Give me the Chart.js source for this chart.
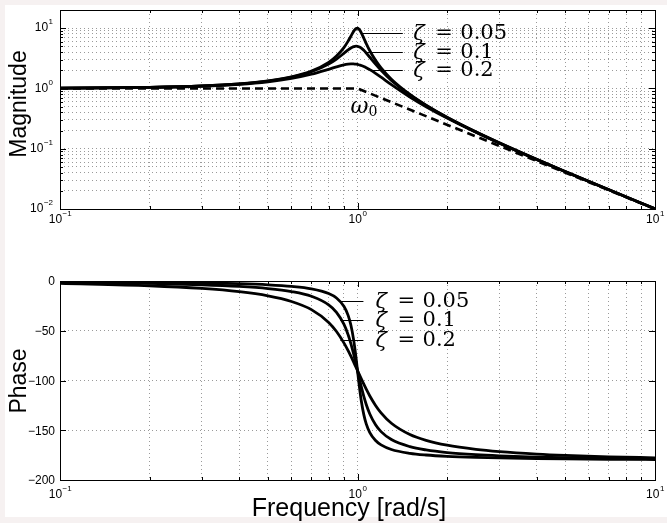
<!DOCTYPE html>
<html>
<head>
<meta charset="utf-8">
<script src="https://cdn.jsdelivr.net/npm/chart.js@4.4.0/dist/chart.umd.min.js"></script>
<style>
  html, body { margin: 0; padding: 0; background: #f6f1f1; }
  #page { position: relative; width: 667px; height: 523px; overflow: hidden; }
  #sheet { position: absolute; left: 5px; top: 5px; width: 662px; height: 512px; background: #fff; }
  #magBox { position: absolute; left: 0; top: 0; width: 667px; height: 250px; }
  #phaseBox { position: absolute; left: 0; top: 250px; width: 667px; height: 273px; }
</style>
</head>
<body>
<div id="page">
  <div id="sheet"></div>
  <div id="magBox"><canvas id="magChart" width="667" height="250"></canvas></div>
  <div id="phaseBox"><canvas id="phaseChart" width="667" height="273"></canvas></div>
</div>
<script>
// frequency samples [rad/s]
const freq = [0.1, 0.2, 0.3, 0.4, 0.5, 0.6, 0.7, 0.8, 0.85, 0.9, 0.93, 0.95, 0.97, 0.98, 0.99, 1,
  1.01, 1.02, 1.03, 1.05, 1.07, 1.1, 1.15, 1.2, 1.3, 1.5, 1.7, 2, 2.5, 3, 4, 5, 7, 10];

// magnitude for each damping ratio
const magZeta005 = [1.010, 1.041, 1.098, 1.189, 1.330, 1.556, 1.943, 2.712, 3.446, 4.757, 6.097, 7.346, 8.804, 9.461, 9.903, 10.0,
  9.711, 9.115, 8.357, 6.815, 5.552, 4.218, 2.921, 2.193, 1.424, 0.794, 0.527, 0.3326, 0.1903, 0.1249, 0.0666, 0.0417, 0.0208, 0.0101];
const magZeta01 = [1.010, 1.041, 1.097, 1.185, 1.322, 1.536, 1.891, 2.538, 3.073, 3.821, 4.350, 4.683, 4.931, 5.001, 5.025, 5.0,
  4.926, 4.809, 4.655, 4.279, 3.869, 3.288, 2.525, 1.995, 1.356, 0.778, 0.521, 0.3304, 0.1896, 0.1247, 0.0666, 0.0416, 0.0208, 0.0101];
const magZeta02 = [1.009, 1.038, 1.090, 1.170, 1.288, 1.463, 1.719, 2.076, 2.279, 2.457, 2.527, 2.549, 2.548, 2.538, 2.522, 2.5,
  2.472, 2.439, 2.401, 2.313, 2.213, 2.051, 1.780, 1.536, 1.157, 0.721, 0.498, 0.3221, 0.1871, 0.1236, 0.0663, 0.0415, 0.0208, 0.0101];

// phase [deg]
const phaseZeta005 = [-0.58, -1.19, -1.89, -2.73, -3.81, -5.36, -7.82, -12.53, -17.03, -25.35, -34.54, -44.26, -58.65, -67.99, -78.64, -90,
  -101.26, -111.61, -120.59, -134.31, -143.56, -152.35, -160.37, -164.74, -169.33, -173.16, -174.86, -176.19, -177.27, -177.85, -178.47, -178.81, -179.16, -179.42];
const phaseZeta01 = [-1.16, -2.39, -3.77, -5.44, -7.59, -10.62, -15.35, -23.96, -31.49, -43.45, -54.00, -62.83, -73.06, -78.58, -84.26, -90,
  -95.68, -101.20, -106.47, -116.02, -124.10, -133.67, -144.50, -151.39, -159.35, -166.50, -169.80, -172.41, -174.56, -175.71, -176.95, -177.61, -178.33, -178.84];
const phaseZeta02 = [-2.31, -4.76, -7.51, -10.78, -14.93, -20.56, -28.77, -41.63, -50.78, -62.18, -70.04, -75.61, -81.34, -84.23, -87.12, -90,
  -92.85, -95.65, -98.41, -103.71, -108.70, -115.52, -125.03, -132.51, -143.00, -154.36, -160.21, -165.07, -169.22, -171.47, -173.91, -175.24, -176.66, -177.69];

// straight-line asymptote
const asymFreq = [0.1, 1, 10];
const asymMag = [1, 1, 0.01];

const zetaLabels = ['0.05', '0.1', '0.2'];

// tick labels
const freqDecades = [0.1, 1, 10];
const freqExponents = ['\u22121', '0', '1'];
const magDecades = [0.01, 0.1, 1, 10];
const magExponents = ['\u22122', '\u22121', '0', '1'];
const phaseTicks = [0, -50, -100, -150, -200];

const SANS = '"Liberation Sans", Arial, Helvetica, sans-serif';
const SERIF = '"DejaVu Serif", "Liberation Serif", serif';

const pts = (xs, ys) => xs.map((x, i) => ({ x: x, y: ys[i] }));

function logGrid(min, max) {
  const vals = [];
  for (let d = min; d <= max; d *= 10) {
    for (let k = 1; k <= 9; k++) {
      const v = parseFloat((k * d).toPrecision(2));
      if (v <= max * 1.0001) vals.push(v);
    }
  }
  return vals;
}

const isDecade = v => Math.abs(Math.log10(v) - Math.round(Math.log10(v))) < 1e-6;

function curve(data) {
  return {
    data: data,
    borderColor: '#000',
    borderWidth: 2.8,
    pointRadius: 0,
    fill: false,
    cubicInterpolationMode: 'monotone'
  };
}

function asymptote(data) {
  return {
    data: data,
    borderColor: '#000',
    borderWidth: 2.6,
    borderDash: [8, 5],
    pointRadius: 0,
    fill: false,
    tension: 0
  };
}

const gridStyle = { color: '#9a9a9a', lineWidth: 1, drawTicks: false };
const borderStyle = { display: false, dash: [1, 3] };

function supLabel(ctx, x, y, exp, align) {
  ctx.font = '12px ' + SANS;
  const wb = ctx.measureText('10').width;
  ctx.font = '8px ' + SANS;
  const we = ctx.measureText(exp).width;
  const left = align === 'right' ? x - wb - we - 0.5 : x - (wb + we) / 2;
  ctx.textAlign = 'left';
  ctx.textBaseline = 'middle';
  ctx.font = '12px ' + SANS;
  ctx.fillText('10', left, y);
  ctx.font = '8px ' + SANS;
  ctx.fillText(exp, left + wb + 0.5, y - 6);
}

function zetaText(ctx, x, y, val) {
  ctx.textAlign = 'left';
  ctx.textBaseline = 'middle';
  ctx.font = 'italic 21px ' + SERIF;
  ctx.fillText('\u03b6', x, y + 1);
  ctx.font = '21px ' + SERIF;
  ctx.fillText('=', x + 22, y);
  ctx.fillText(val, x + 47, y);
}

// axes box, inward ticks, tick labels, titles and annotations
function framePlugin(cfg) {
  return {
    id: 'bodeFrame',
    afterDraw(chart) {
      const ctx = chart.ctx;
      const a = chart.chartArea;
      const xs = chart.scales.x, ys = chart.scales.y;
      ctx.save();

      ctx.strokeStyle = '#000';
      ctx.lineWidth = 1;
      ctx.beginPath();
      xs.ticks.forEach(t => {
        const px = Math.round(xs.getPixelForValue(t.value)) + 0.5;
        const len = isDecade(t.value) ? 6 : 3;
        ctx.moveTo(px, a.bottom); ctx.lineTo(px, a.bottom - len);
        ctx.moveTo(px, a.top); ctx.lineTo(px, a.top + len);
      });
      ys.ticks.forEach(t => {
        const py = Math.round(ys.getPixelForValue(t.value)) + 0.5;
        const len = (!cfg.yLog || isDecade(t.value)) ? 6 : 3;
        ctx.moveTo(a.left, py); ctx.lineTo(a.left + len, py);
        ctx.moveTo(a.right, py); ctx.lineTo(a.right - len, py);
      });
      ctx.stroke();
      ctx.strokeRect(Math.round(a.left) + 0.5, Math.round(a.top) + 0.5,
        Math.round(a.right - a.left), Math.round(a.bottom - a.top));

      ctx.fillStyle = '#000';
      freqDecades.forEach((v, i) => {
        supLabel(ctx, xs.getPixelForValue(v), a.bottom + cfg.xLabelGap, freqExponents[i], 'center');
      });
      if (cfg.yLog) {
        magDecades.forEach((v, i) => {
          supLabel(ctx, a.left - 7, ys.getPixelForValue(v), magExponents[i], 'right');
        });
      } else {
        ctx.font = '12px ' + SANS;
        ctx.textAlign = 'right';
        ctx.textBaseline = 'middle';
        phaseTicks.forEach(v => {
          const txt = v < 0 ? '\u2212' + Math.abs(v) : String(v);
          ctx.fillText(txt, a.left - 5, ys.getPixelForValue(v) + 1);
        });
      }

      // axis titles
      ctx.font = '23px ' + SANS;
      ctx.textAlign = 'center';
      ctx.textBaseline = 'middle';
      ctx.save();
      ctx.translate(20, cfg.yTitleY);
      ctx.rotate(-Math.PI / 2);
      ctx.fillText(cfg.yTitle, 0, 0);
      ctx.restore();
      if (cfg.xTitle) {
        ctx.font = '25px ' + SANS;
        ctx.fillText(cfg.xTitle, cfg.xTitleX, cfg.xTitleY);
      }

      // damping ratio labels with leader lines
      ctx.lineWidth = 1;
      ctx.beginPath();
      cfg.zeta.forEach(z => {
        const py = Math.round(ys.getPixelForValue(z.y)) + 0.5;
        ctx.moveTo(xs.getPixelForValue(z.x0), py);
        ctx.lineTo(xs.getPixelForValue(z.x1), py);
      });
      ctx.stroke();
      cfg.zeta.forEach((z, i) => {
        zetaText(ctx, xs.getPixelForValue(cfg.zetaTextX), ys.getPixelForValue(z.y), zetaLabels[i]);
      });

      if (cfg.omega) {
        const ox = xs.getPixelForValue(cfg.omega.x), oy = ys.getPixelForValue(cfg.omega.y);
        ctx.textAlign = 'left';
        ctx.textBaseline = 'middle';
        ctx.font = 'italic 22px ' + SERIF;
        ctx.fillText('\u03c9', ox, oy);
        ctx.font = '14px ' + SERIF;
        ctx.fillText('0', ox + 18, oy + 5);
      }
      ctx.restore();
    }
  };
}

function baseOptions(padTop, xHeight, yMin, yMax, yLog) {
  return {
    responsive: false,
    animation: false,
    events: [],
    layout: { padding: { top: padTop, right: 12, left: 0, bottom: 0 } },
    plugins: { legend: { display: false }, tooltip: { enabled: false } },
    scales: {
      x: {
        type: 'logarithmic', min: 0.1, max: 10,
        afterBuildTicks: s => { s.ticks = logGrid(0.1, 10).map(v => ({ value: v })); },
        afterFit: s => { s.height = xHeight; },
        ticks: { display: false },
        grid: gridStyle,
        border: borderStyle
      },
      y: yLog ? {
        type: 'logarithmic', min: yMin, max: yMax,
        afterBuildTicks: s => { s.ticks = logGrid(yMin, yMax).map(v => ({ value: v })); },
        afterFit: s => { s.width = 60; },
        ticks: { display: false },
        grid: gridStyle,
        border: borderStyle
      } : {
        type: 'linear', min: yMin, max: yMax,
        afterFit: s => { s.width = 60; },
        ticks: { display: false, stepSize: 50 },
        grid: gridStyle,
        border: borderStyle
      }
    }
  };
}

new Chart(document.getElementById('magChart'), {
  type: 'line',
  data: {
    datasets: [
      asymptote(pts(asymFreq, asymMag)),
      curve(pts(freq, magZeta02)),
      curve(pts(freq, magZeta01)),
      curve(pts(freq, magZeta005))
    ]
  },
  options: baseOptions(10, 41, 0.01, 20, true),
  plugins: [framePlugin({
    yLog: true,
    xLabelGap: 11,
    yTitle: 'Magnitude',
    yTitleY: 104,
    zetaTextX: 1.54,
    zeta: [
      { y: 8.25, x0: 1.04, x1: 1.42 },
      { y: 3.98, x0: 1.06, x1: 1.42 },
      { y: 2.0, x0: 1.12, x1: 1.42 }
    ],
    omega: { x: 0.947, y: 0.49 }
  })]
});

new Chart(document.getElementById('phaseChart'), {
  type: 'line',
  data: {
    datasets: [
      curve(pts(freq, phaseZeta02)),
      curve(pts(freq, phaseZeta01)),
      curve(pts(freq, phaseZeta005))
    ]
  },
  options: baseOptions(31, 43, -200, 0, false),
  plugins: [framePlugin({
    yLog: false,
    xLabelGap: 15,
    yTitle: 'Phase',
    yTitleY: 131,
    xTitle: 'Frequency [rad/s]',
    xTitleX: 349,
    xTitleY: 259,
    zetaTextX: 1.15,
    zeta: [
      { y: -20.2, x0: 0.876, x1: 1.047 },
      { y: -39.4, x0: 0.876, x1: 1.047 },
      { y: -59.6, x0: 0.876, x1: 1.047 }
    ]
  })]
});
</script>
</body>
</html>
